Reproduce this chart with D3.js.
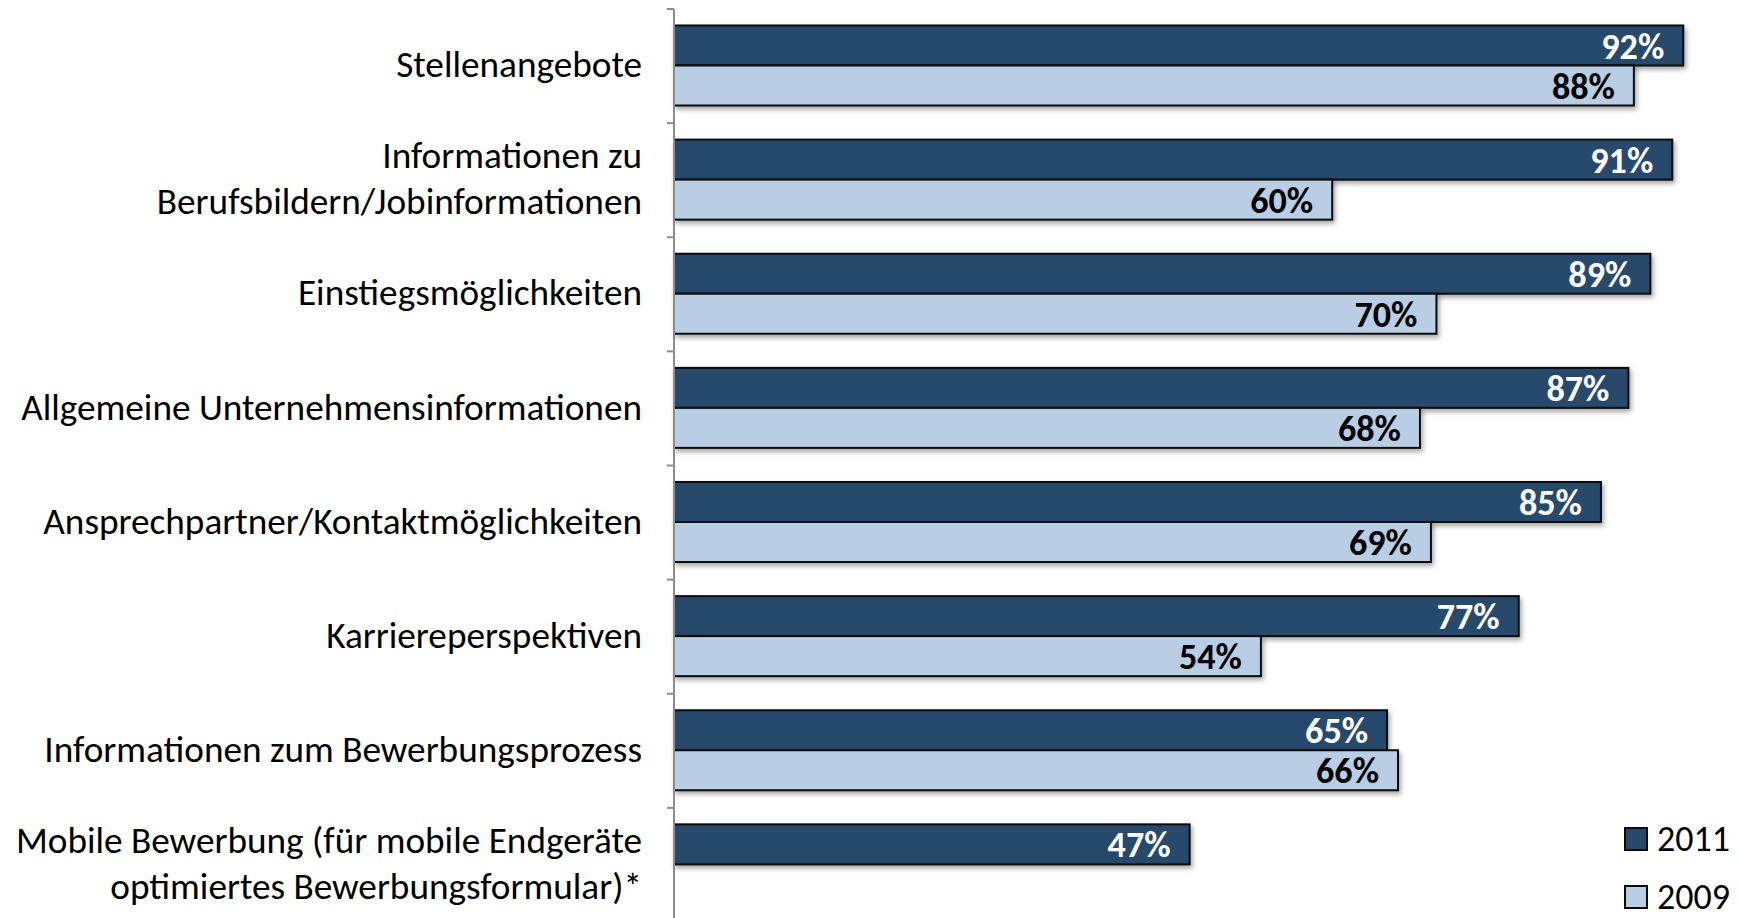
<!DOCTYPE html>
<html>
<head>
<meta charset="utf-8">
<script src="https://cdn.jsdelivr.net/npm/d3@7"></script>
<style>
  body { margin: 0; background: #fff; }
  svg { display: block; }
</style>
</head>
<body>
<svg id="chart"></svg>
<script>
// categories top to bottom, "\n" marks a line break in the label
var categories = [
    "Stellenangebote",
    "Informationen zu\nBerufsbildern/Jobinformationen",
    "Einstiegsmöglichkeiten",
    "Allgemeine Unternehmensinformationen",
    "Ansprechpartner/Kontaktmöglichkeiten",
    "Karriereperspektiven",
    "Informationen zum Bewerbungsprozess",
    "Mobile Bewerbung (für mobile Endgeräte\noptimiertes Bewerbungsformular)*"
];
var seriesNames = ["2011", "2009"];
// bar lengths; labels show them rounded
var values2011 = [92, 91, 89, 87, 84.5, 77, 65, 47];
var values2009 = [87.5, 60, 69.5, 68, 69, 53.5, 66, null];

var width = 1739, height = 918;
var fontFamily = "Carlito, Calibri, Lato, sans-serif";
var colors = { "2011": "#264A6C", "2009": "#B9CDE5" };
var textColors = { "2011": "#ffffff", "2009": "#000000" };

var svg = d3.select("#chart")
    .attr("width", width)
    .attr("height", height)
    .style("font-family", fontFamily);

// fit the font size so a text gets the width it has in the original
function fitSize(str, weight, target) {
    var t = svg.append("text")
        .style("font-size", "100px")
        .style("font-weight", weight)
        .text(str);
    var w = t.node().getComputedTextLength();
    t.remove();
    return 100 * target / w;
}
var labelSize = fitSize("Allgemeine Unternehmensinformationen", "normal", 621);
var valueSize = fitSize("92%", "bold", 63);
var legendSize = fitSize("2011", "normal", 73);

var data = categories.map((c, i) => ({
    category: c,
    values: [
        { series: "2011", value: values2011[i] },
        { series: "2009", value: values2009[i] }
    ].filter(d => d.value != null)
}));

var x = d3.scaleLinear().domain([0, 100]).range([674, 1771]);
var y = d3.scaleBand().domain(categories).range([9, 922]);
var ys = d3.scaleBand().domain(seriesNames).range([16.5, 96.5]);

var defs = svg.append("defs");
defs.append("filter")
    .attr("id", "shadow")
    .attr("x", "-5%").attr("y", "-20%")
    .attr("width", "110%").attr("height", "160%")
    .append("feDropShadow")
    .attr("dx", 2).attr("dy", 3)
    .attr("stdDeviation", 2.5)
    .attr("flood-color", "#000")
    .attr("flood-opacity", 0.35);

// bars
var groups = svg.append("g")
    .selectAll("g")
    .data(data)
    .join("g")
    .attr("transform", d => `translate(0,${y(d.category)})`);

groups.selectAll("rect")
    .data(d => d.values)
    .join("rect")
    .attr("x", x(0))
    .attr("y", d => ys(d.series))
    .attr("width", d => x(d.value) - x(0))
    .attr("height", ys.bandwidth())
    .attr("fill", d => colors[d.series])
    .attr("stroke", "#0a0a0a")
    .attr("stroke-width", 2)
    .attr("filter", "url(#shadow)");

groups.selectAll("text")
    .data(d => d.values)
    .join("text")
    .attr("x", d => x(d.value) - 19)
    .attr("y", d => ys(d.series) + ys.bandwidth() / 2)
    .attr("dy", "0.36em")
    .attr("text-anchor", "end")
    .style("font-size", valueSize + "px")
    .style("font-weight", "bold")
    .style("fill", d => textColors[d.series])
    .text(d => Math.round(d.value) + "%");

// category axis: grey line with ticks at the band edges
var axis = svg.append("g").attr("stroke", "#8c8c8c").attr("stroke-width", 2);
axis.append("line")
    .attr("x1", x(0)).attr("x2", x(0))
    .attr("y1", y.range()[0]).attr("y2", y.range()[1]);
axis.selectAll(".tick")
    .data(categories)
    .join("line")
    .attr("class", "tick")
    .attr("x1", x(0) - 7).attr("x2", x(0))
    .attr("y1", d => y(d)).attr("y2", d => y(d));

// category labels
var lineH = 46;
var labels = svg.append("g")
    .selectAll("text")
    .data(categories)
    .join("text")
    .attr("text-anchor", "end")
    .style("font-size", labelSize + "px")
    .style("fill", "#000");

labels.selectAll("tspan")
    .data(d => {
        var lines = d.split("\n");
        var mid = y(d) + y.bandwidth() / 2;
        return lines.map((l, i) => ({ text: l, y: mid + (i - (lines.length - 1) / 2) * lineH }));
    })
    .join("tspan")
    .attr("x", 642)
    .attr("y", d => d.y)
    .attr("dy", "0.3em")
    .text(d => d.text);

// legend
var legend = svg.append("g")
    .selectAll("g")
    .data(seriesNames)
    .join("g")
    .attr("transform", (d, i) => `translate(1625,${839 + i * 58})`);

legend.append("rect")
    .attr("x", 0).attr("y", -11)
    .attr("width", 22).attr("height", 22)
    .attr("fill", d => colors[d])
    .attr("stroke", "#0a0a0a")
    .attr("stroke-width", 2);

legend.append("text")
    .attr("x", 32)
    .attr("dy", "0.34em")
    .style("font-size", legendSize + "px")
    .style("fill", "#000")
    .text(d => d);
</script>
</body>
</html>
